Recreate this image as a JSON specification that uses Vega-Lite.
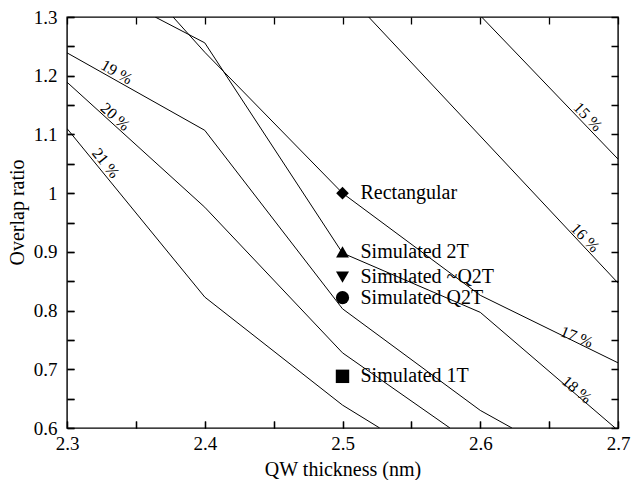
{
  "$schema": "https://vega.github.io/schema/vega-lite/v6.json",
  "width": 551,
  "height": 411,
  "autosize": {"type": "none"},
  "padding": {"left": 67, "top": 17, "right": 14, "bottom": 52},
  "config": {
    "font": "Liberation Serif",
    "view": {"stroke": "black", "strokeWidth": 1.4},
    "axis": {
      "domain": false,
      "labelColor": "black",
      "titleColor": "black",
      "labelFontSize": 19,
      "titleFontSize": 20,
      "titleFontWeight": "normal",
      "labelFlush": false
    }
  },
  "datasets": {
    "contours": [
      {"series": "15", "x": 2.601, "y": 1.3},
      {"series": "15", "x": 2.7, "y": 1.058},
      {"series": "16", "x": 2.519, "y": 1.3},
      {"series": "16", "x": 2.7, "y": 0.847},
      {"series": "17", "x": 2.377, "y": 1.3},
      {"series": "17", "x": 2.4, "y": 1.24},
      {"series": "17", "x": 2.5, "y": 1.0},
      {"series": "17", "x": 2.6, "y": 0.826},
      {"series": "17", "x": 2.7, "y": 0.711},
      {"series": "18", "x": 2.364, "y": 1.3},
      {"series": "18", "x": 2.4, "y": 1.256},
      {"series": "18", "x": 2.5, "y": 0.898},
      {"series": "18", "x": 2.6, "y": 0.797},
      {"series": "18", "x": 2.698, "y": 0.6},
      {"series": "19", "x": 2.3, "y": 1.239},
      {"series": "19", "x": 2.4, "y": 1.107},
      {"series": "19", "x": 2.5, "y": 0.803},
      {"series": "19", "x": 2.6, "y": 0.63},
      {"series": "19", "x": 2.623, "y": 0.6},
      {"series": "20", "x": 2.3, "y": 1.189},
      {"series": "20", "x": 2.4, "y": 0.976},
      {"series": "20", "x": 2.5, "y": 0.728},
      {"series": "20", "x": 2.578, "y": 0.6},
      {"series": "21", "x": 2.3, "y": 1.11},
      {"series": "21", "x": 2.4, "y": 0.823},
      {"series": "21", "x": 2.5, "y": 0.639},
      {"series": "21", "x": 2.527, "y": 0.6}
    ],
    "points": [
      {"x": 2.5, "y": 1.0, "label": "Rectangular"},
      {"x": 2.5, "y": 0.9, "label": "Simulated 2T"},
      {"x": 2.5, "y": 0.857, "label": "Simulated ~Q2T"},
      {"x": 2.5, "y": 0.822, "label": "Simulated Q2T"},
      {"x": 2.5, "y": 0.688, "label": "Simulated 1T"}
    ]
  },
  "encoding": {
    "x": {
      "field": "x", "type": "quantitative",
      "scale": {"domain": [2.3, 2.7], "nice": false, "zero": false},
      "axis": {
        "orient": "bottom",
        "values": [2.3, 2.35, 2.4, 2.45, 2.5, 2.55, 2.6, 2.65, 2.7],
        "labelExpr": "round(datum.value*100) % 10 != 0 ? '' : format(datum.value, '~g')",
        "ticks": true,
        "tickSize": -7,
        "tickColor": "black",
        "tickWidth": 1.3,
        "grid": true,
        "gridColor": "black",
        "gridOpacity": 1,
        "gridWidth": 1.3,
        "gridDash": [7, 397, 7],
        "labelPadding": 13,
        "title": "QW thickness (nm)",
        "titleBaseline": "middle",
        "titleY": 41
      }
    },
    "y": {
      "field": "y", "type": "quantitative",
      "scale": {"domain": [0.6, 1.3], "nice": false, "zero": false},
      "axis": {
        "orient": "left",
        "values": [0.6, 0.65, 0.7, 0.75, 0.8, 0.85, 0.9, 0.95, 1.0, 1.05, 1.1, 1.15, 1.2, 1.25, 1.3],
        "labelExpr": "round(datum.value*100) % 10 != 0 ? '' : format(datum.value, '~g')",
        "ticks": true,
        "tickSize": -7,
        "tickColor": "black",
        "tickWidth": 1.3,
        "grid": true,
        "gridColor": "black",
        "gridOpacity": 1,
        "gridWidth": 1.3,
        "gridDash": [7, 537, 7],
        "labelPadding": 17,
        "title": "Overlap ratio",
        "titleBaseline": "middle",
        "titleX": -50,
        "titleY": 195
      }
    }
  },
  "layer": [
    {
      "data": {"name": "contours"},
      "mark": {"type": "line", "color": "black", "strokeWidth": 1, "clip": true},
      "encoding": {"detail": {"field": "series"}}
    },
    {
      "data": {"name": "points"},
      "mark": {"type": "point", "filled": true, "color": "black", "opacity": 1},
      "encoding": {
        "shape": {
          "field": "label", "type": "nominal",
          "scale": {
            "domain": ["Rectangular", "Simulated 2T", "Simulated ~Q2T", "Simulated Q2T", "Simulated 1T"],
            "range": ["diamond", "triangle-up", "triangle-down", "circle", "square"]
          },
          "legend": null
        },
        "size": {
          "field": "label", "type": "nominal",
          "scale": {
            "domain": ["Rectangular", "Simulated 2T", "Simulated ~Q2T", "Simulated Q2T", "Simulated 1T"],
            "range": [160, 180, 160, 100, 70]
          },
          "legend": null
        }
      }
    },
    {
      "data": {"name": "points"},
      "mark": {"type": "text", "align": "left", "baseline": "middle", "dx": 18, "fontSize": 20, "color": "black"},
      "encoding": {"text": {"field": "label"}}
    },
    {
      "data": {"values": [{"x": 2.336, "y": 1.206, "label": "19 %"}]},
      "mark": {"type": "text", "angle": 30, "fontSize": 16, "align": "center", "baseline": "middle", "color": "black"},
      "encoding": {"text": {"field": "label"}}
    },
    {
      "data": {"values": [{"x": 2.335, "y": 1.13, "label": "20 %"}]},
      "mark": {"type": "text", "angle": 42, "fontSize": 16, "align": "center", "baseline": "middle", "color": "black"},
      "encoding": {"text": {"field": "label"}}
    },
    {
      "data": {"values": [{"x": 2.328, "y": 1.051, "label": "21 %"}]},
      "mark": {"type": "text", "angle": 51, "fontSize": 16, "align": "center", "baseline": "middle", "color": "black"},
      "encoding": {"text": {"field": "label"}}
    },
    {
      "data": {"values": [{"x": 2.678, "y": 1.13, "label": "15 %"}, {"x": 2.676, "y": 0.924, "label": "16 %"}]},
      "mark": {"type": "text", "angle": 46, "fontSize": 16, "align": "center", "baseline": "middle", "color": "black"},
      "encoding": {"text": {"field": "label"}}
    },
    {
      "data": {"values": [{"x": 2.67, "y": 0.755, "label": "17 %"}]},
      "mark": {"type": "text", "angle": 22, "fontSize": 16, "align": "center", "baseline": "middle", "color": "black"},
      "encoding": {"text": {"field": "label"}}
    },
    {
      "data": {"values": [{"x": 2.67, "y": 0.665, "label": "18 %"}]},
      "mark": {"type": "text", "angle": 41, "fontSize": 16, "align": "center", "baseline": "middle", "color": "black"},
      "encoding": {"text": {"field": "label"}}
    }
  ]
}
